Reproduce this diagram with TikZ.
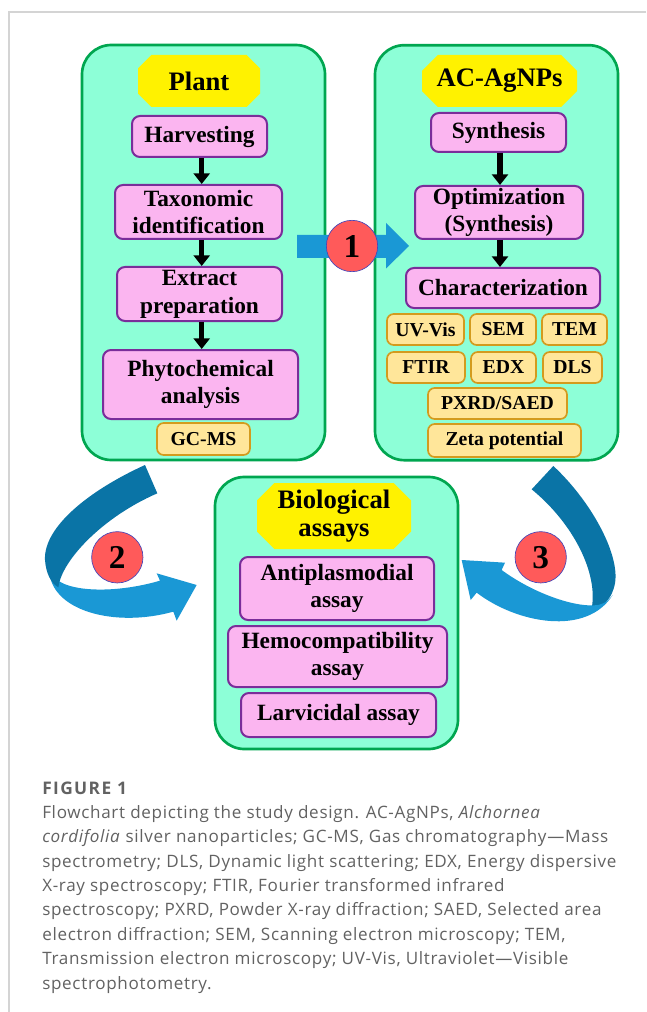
\documentclass[tikz,border=0pt]{standalone}
\usepackage{fontspec}
\setmainfont{Liberation Serif}
\newfontfamily\capfont[LetterSpace=4]{Open Sans}
\newfontfamily\figfont[LetterSpace=8]{Open Sans}
\usetikzlibrary{shapes.misc,arrows.meta}
\definecolor{aqua}{HTML}{8DFFD7}
\definecolor{gborder}{HTML}{00A650}
\definecolor{pinkf}{HTML}{FBB5F0}
\definecolor{purb}{HTML}{7A2D9A}
\definecolor{orgf}{HTML}{FFE69A}
\definecolor{orgb}{HTML}{D39B1E}
\definecolor{lblue}{HTML}{1A98D5}
\definecolor{dblue}{HTML}{0A74A6}
\definecolor{redc}{HTML}{FF5A5A}
\definecolor{capgray}{HTML}{626262}
\definecolor{framegray}{HTML}{D4D4D4}
\tikzset{
  sz/.style 2 args={minimum width=#1*0.75pt, minimum height=#2*0.75pt},
  container/.style={draw=gborder, line width=2pt, fill=aqua, rounded corners=22pt, inner sep=0},
  lbl/.style={chamfered rectangle, chamfered rectangle angle=45, chamfered rectangle xsep=10pt,
    fill=yellow, inner sep=0, align=center, font=\fontsize{20}{21}\selectfont\bfseries},
  pinkbox/.style={draw=purb, line width=1.5pt, fill=pinkf, rounded corners=6pt, inner sep=0,
    align=center, font=\fontsize{17.5}{20.8}\selectfont\bfseries},
  orgbox/.style={draw=orgb, line width=1.25pt, fill=orgf, rounded corners=5pt, inner sep=0,
    font=\fontsize{14.8}{17}\selectfont\bfseries},
  flow/.style={line width=3.8pt, -{Triangle[width=12pt,length=8pt]}},
  circ/.style={circle, fill=redc, draw=blue!45!gray, line width=0.5pt, minimum size=38.5pt,
    inner sep=0, font=\fontsize{25}{25}\selectfont\bfseries},
  capline/.style={anchor=base west, inner sep=0, text=capgray, font=\capfont\fontsize{12.8}{14}\selectfont},
}
\begin{document}
\begin{tikzpicture}[x=0.75pt,y=-0.75pt]
\useasboundingbox (0,0) rectangle (646,1012);
\fill[white] (0,0) rectangle (646,1012);
\draw[framegray, line width=0.8pt] (646,12) -- (9,12) -- (9,1012);

% containers
\node[container, sz={243}{415}] (plantbox) at (203.5,252.5) {};
\node[container, sz={243}{415}] (acbox) at (496.5,252.7) {};
\node[container, sz={243}{272}] (biobox) at (336.5,613) {};

% Plant column
\node[lbl, sz={122}{52}] (plant) at (199,81) {Plant};
\node[pinkbox, sz={135}{41}] (harv) at (199.5,136.5) {Harvesting};
\node[pinkbox, sz={167}{54}] (tax) at (198.5,212) {Taxonomic\\identification};
\node[pinkbox, sz={165}{54}] (extr) at (199.5,294) {Extract\\preparation};
\node[pinkbox, sz={195}{69}] (phyto) at (200.5,384.5) {Phytochemical\\analysis};
\node[orgbox, sz={93}{32}] (gcms) at (203.5,439) {GC-MS};
\coordinate (pa) at (201.7,0);
\draw[flow] (harv.south -| pa) -- (tax.north -| pa);
\draw[flow] (tax.south -| pa) -- (extr.north -| pa);
\draw[flow] (extr.south -| pa) -- (phyto.north -| pa);

% AC-AgNPs column
\node[lbl, sz={155}{52}] (ac) at (499.5,81) {AC-AgNPs};
\node[pinkbox, sz={135}{39}] (syn) at (498.5,132.5) {Synthesis};
\node[pinkbox, sz={168}{53}] (opt) at (499,212.5) {Optimization\\(Synthesis)};
\node[pinkbox, sz={194}{40}] (char) at (503,288) {Characterization};
\node[orgbox, sz={77}{31}] (uv) at (425.5,329.5) {UV-Vis};
\node[orgbox, sz={66}{31}] (sem) at (503,329.5) {SEM};
\node[orgbox, sz={65}{31}] (tem) at (574.5,329.5) {TEM};
\node[orgbox, sz={78}{31}] (ftir) at (426,367.5) {FTIR};
\node[orgbox, sz={65}{31}] (edx) at (503.5,367.5) {EDX};
\node[orgbox, sz={59}{31}] (dls) at (572.5,367.5) {DLS};
\node[orgbox, sz={139}{31}] (pxrd) at (497.5,403.5) {PXRD/SAED};
\node[orgbox, sz={153}{33}] (zeta) at (504.5,440.5) {Zeta potential};
\coordinate (pb) at (500,0);
\draw[flow] (syn.south -| pb) -- (opt.north -| pb);
\draw[flow] (opt.south -| pb) -- (char.north -| pb);

% Biological assays
\node[lbl, sz={154}{66}] (bio) at (334,516) {Biological\\assays};
\node[pinkbox, sz={194}{63}] (anti) at (337,588.5) {Antiplasmodial\\assay};
\node[pinkbox, sz={219}{61}] (hemo) at (337.5,656.5) {Hemocompatibility\\assay};
\node[pinkbox, sz={195}{44}] (larv) at (338.5,715) {Larvicidal assay};

% block arrow 1
\fill[lblue] (297,235) -- (386,235) -- (386,223) -- (409,246) -- (386,268.5) -- (386,258) -- (297,258) -- cycle;
\node[circ] (c1) at (352,246) {1};

% ribbon arrow 2
\begin{scope}[shift={(30,460)}, scale=1/3]
  \fill[lblue] (58,330) .. controls (60,450) and (250,505) .. (430,455) -- (440,482) -- (500,375)
     -- (380,340) -- (390,362) .. controls (260,400) and (130,395) .. (85,362) -- cycle;
  \fill[dblue] (345,15) .. controls (180,90) and (40,200) .. (45,300)
     .. controls (48,340) and (62,368) .. (85,382)
     .. controls (95,300) and (220,170) .. (382,100) -- cycle;
\end{scope}
\node[circ] (c2) at (117.3,557.3) {2};

% ribbon arrow 3
\begin{scope}[shift={(440,460)}, scale=1/3]
  \fill[dblue] (340,18) .. controls (450,120) and (540,280) .. (525,370)
     .. controls (515,420) and (490,440) .. (455,445)
     .. controls (475,340) and (400,190) .. (275,88) -- cycle;
  \fill[lblue] (462,436) .. controls (400,440) and (280,400) .. (185,330) -- (195,308) -- (65,300)
     -- (92,420) -- (110,398) .. controls (230,490) and (440,530) .. (518,405)
     .. controls (500,430) and (480,436) .. (462,436) -- cycle;
\end{scope}
\node[circ] (c3) at (540.7,557.3) {3};

% caption
\node[capline, font=\figfont\bfseries\fontsize{13}{14}\selectfont] (fig) at (42,794) {FIGURE 1};
\node[capline] (l1) at (42,818.3) {Flowchart depicting the study design. AC-AgNPs, \textit{Alchornea}};
\node[capline] (l2) at (42,842.7) {\textit{cordifolia} silver nanoparticles; GC-MS, Gas chromatography—Mass};
\node[capline] (l3) at (42,867.1) {spectrometry; DLS, Dynamic light scattering; EDX, Energy dispersive};
\node[capline] (l4) at (42,891.5) {X-ray spectroscopy; FTIR, Fourier transformed infrared};
\node[capline] (l5) at (42,915.9) {spectroscopy; PXRD, Powder X-ray diffraction; SAED, Selected area};
\node[capline] (l6) at (42,940.3) {electron diffraction; SEM, Scanning electron microscopy; TEM,};
\node[capline] (l7) at (42,964.7) {Transmission electron microscopy; UV-Vis, Ultraviolet—Visible};
\node[capline] (l8) at (42,989.1) {spectrophotometry.};
\end{tikzpicture}
\end{document}
